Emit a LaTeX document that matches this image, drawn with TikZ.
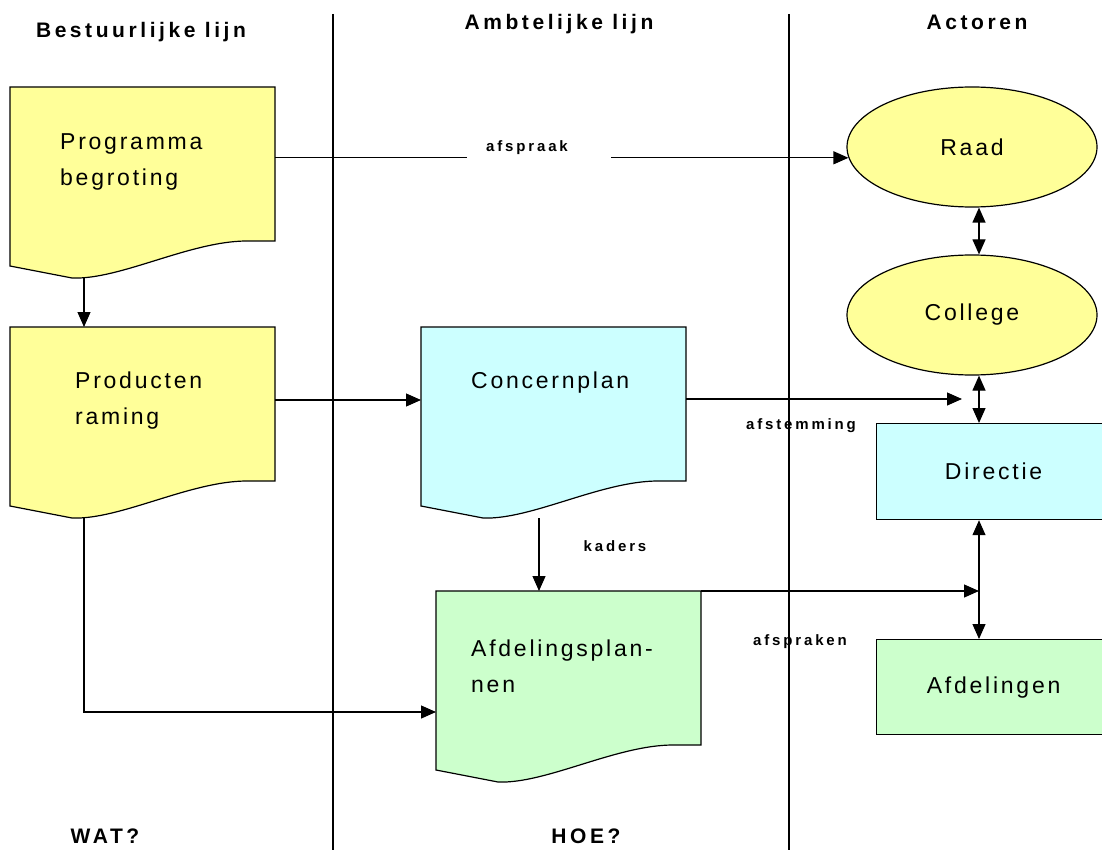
\documentclass[tikz,border=0pt]{standalone}
\usepackage{fontspec}
\setmainfont{Liberation Sans}
\newfontfamily\boxfont{Liberation Sans}[LetterSpace=12]
\newfontfamily\headfont{Liberation Sans}[LetterSpace=17]
\newfontfamily\lblfont{Liberation Sans}[LetterSpace=19]
\usetikzlibrary{calc,arrows.meta,shapes.geometric}
\definecolor{docyellow}{RGB}{255,255,153}
\definecolor{doccyan}{RGB}{204,255,255}
\definecolor{docgreen}{RGB}{204,255,204}
\tikzset{
	docarea/.style={rectangle, anchor=north west, inner sep=0pt, minimum width=265pt, minimum height=191pt},
	doctext/.style={anchor=west, align=left, inner sep=0pt, font=\boxfont\fontsize{23}{36}\selectfont},
	actor/.style={ellipse, draw, line width=1.2pt, fill=docyellow, minimum width=250pt, minimum height=120pt, inner sep=0pt, font=\boxfont\fontsize{23}{36}\selectfont},
	unit/.style={rectangle, draw, line width=1.2pt, anchor=north west, minimum width=234pt, inner sep=0pt, font=\boxfont\fontsize{23}{36}\selectfont},
	head/.style={inner sep=0pt, font=\headfont\bfseries\fontsize{21}{23}\selectfont},
	lbl/.style={inner sep=0pt, font=\lblfont\bfseries\fontsize{15}{17}\selectfont},
	arr/.style={line width=1.2pt, -{Triangle[length=15pt,width=13pt]}},
	dblarr/.style={line width=1.2pt, {Triangle[length=15pt,width=13pt]}-{Triangle[length=15pt,width=13pt]}},
}
% document outline with wavy bottom, hung on a docarea node
\def\docshape(#1)#2{\draw[line width=1.2pt, fill=#2, shift={(#1.north west)}] (0,0) -- (265,0) -- (265,154) -- (237,154) .. controls (180,154) and (110,193) .. (62,191) -- (0,179) -- cycle;}

\begin{document}
\begin{tikzpicture}[x=1pt, y=-1pt]
	\useasboundingbox (0,0) rectangle (1102,850);
	\clip (0,0) rectangle (1102,850);
	
	%%%%% columns %%%%%
	\draw[line width=1.2pt] (333,14) -- (333,850);
	\draw[line width=1.2pt] (789,14) -- (789,850);
	
	\node[head] (hbest) at (141,32) {Bestuurlijke lijn};
	\node[head] (hambt) at (559,24) {Ambtelijke lijn};
	\node[head] (hact) at (977,22) {Actoren};
	\node[head] (hwat) at (105,836) {WAT?};
	\node[head] (hhoe) at (586,836) {HOE?};
	
	%%%%% documents %%%%%
	\node[docarea] (prog) at (10,87) {};
	\node[docarea] (prod) at (10,327) {};
	\node[docarea] (conc) at (421,327) {};
	\node[docarea] (afdp) at (436,591) {};
	\docshape(prog){docyellow}
	\docshape(prod){docyellow}
	\docshape(conc){doccyan}
	\docshape(afdp){docgreen}
	
	\node[doctext] (progtxt) at (60,162) {Programma\\begroting};
	\node[doctext] (prodtxt) at (75,401) {Producten\\raming};
	\node[doctext] (conctxt) at (471,383) {Concernplan};
	\node[doctext] (afdptxt) at (471,666) {Afdelingsplan-\\nen};
	
	%%%%% actoren %%%%%
	\node[actor] (raad) at (972,147) {Raad};
	\node[actor] (coll) at (972,315) {College};
	\node[unit, fill=doccyan, minimum height=96pt] (dir) at (876,423) {Directie};
	\node[unit, fill=docgreen, minimum height=95pt] (afd) at (876,639) {Afdelingen};
	
	%%%%% labels %%%%%
	\node[lbl] (afspraak) at (527,148) {afspraak};
	\node[lbl] (afstemming) at (801,426) {afstemming};
	\node[lbl] (kaders) at (615,546) {kaders};
	\node[lbl] (afspraken) at (800,642) {afspraken};
	
	%%%%% arrows %%%%%
	\coordinate (spine) at ([xshift=7pt]coll.south);
	\coordinate (afsttip) at ([xshift=-17pt]spine |- conc.north);
	
	\draw[line width=1.2pt] (prog.east |- raad.185) -- ([xshift=-19pt]afspraak.west |- raad.185);
	\draw[arr] ([xshift=43pt]afspraak.east |- raad.185) -- (raad.185);
	\draw[arr] ($(prog.south west)+(74,0)$) -- ($(prod.north west)+(74,0)$);
	\draw[arr] ($(prod.north east)+(0,73)$) -- ($(conc.north west)+(0,73)$);
	\draw[arr] ($(conc.north east)+(0,72)$) -- ($(afsttip)+(0,72)$);
	\draw[arr] ($(conc.south west)+(118,0)$) -- ($(afdp.north west)+(103,0)$);
	\draw[arr] ($(prod.south west)+(74,0)$) |- ($(afdp.north west)+(0,121)$);
	\draw[arr] (afdp.north east) -- (spine |- afdp.north east);
	
	\draw[dblarr] ([xshift=7pt]raad.south) -- ([xshift=7pt]coll.north);
	\draw[dblarr] (spine) -- (spine |- dir.north);
	\draw[dblarr] (spine |- dir.south) -- (spine |- afd.north);
\end{tikzpicture}
\end{document}
